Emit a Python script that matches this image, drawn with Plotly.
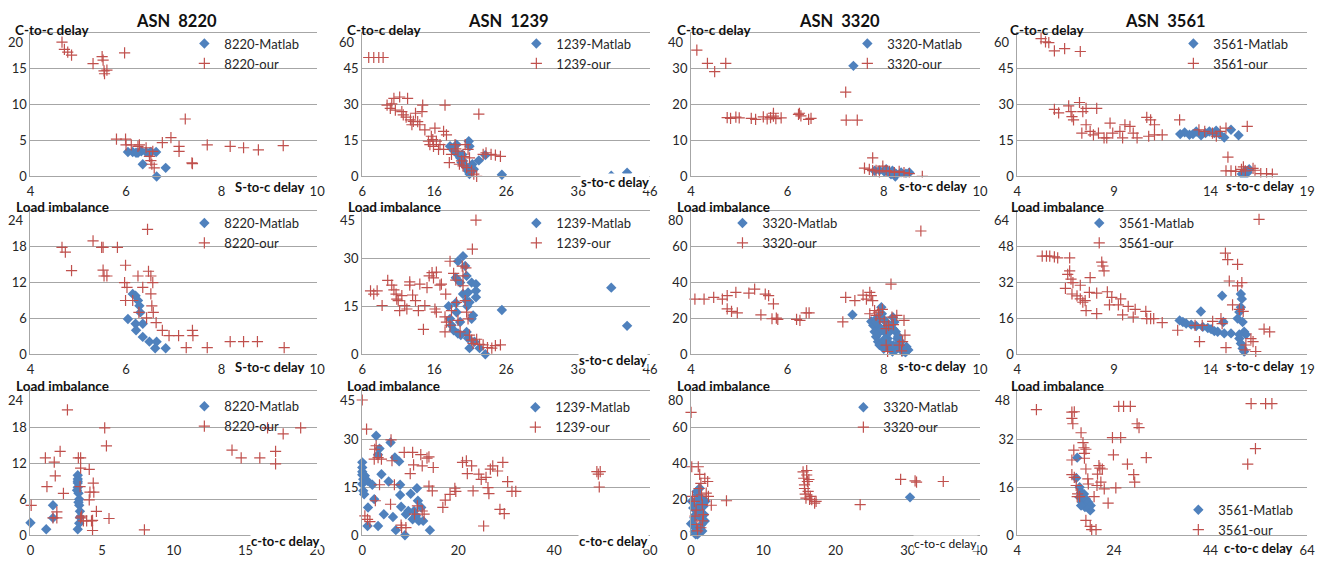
import plotly.graph_objects as go

W, H = 1332, 563
BLUE = "#4F81BD"
RED = "#C0504D"
GRID = "#A6A6A6"
TXT = "#262626"
FONT = "Lato"

# ---------------- data ----------------
# Row 1: s-to-c delay (x) vs c-to-c delay (y)
asn8220_sc_cc_matlab_x = [6.04, 6.14, 6.21, 6.25, 6.32, 6.42, 6.49, 6.52, 6.63, 6.35, 6.83, 6.64]
asn8220_sc_cc_matlab_y = [3.4, 3.4, 3.3, 3.3, 3.5, 3.4, 3.3, 3.4, 3.4, 1.7, 1.2, 0.0]
asn8220_sc_cc_our_x = [4.66, 4.71, 4.78, 4.86, 5.31, 5.50, 5.52, 5.54, 5.55, 5.60, 5.97, 5.80, 5.99, 6.00, 6.11,
                       6.25, 6.28, 6.42, 6.56, 6.49, 6.52, 6.54, 6.59, 6.76, 6.94, 7.11, 7.11, 7.24, 7.39, 7.38,
                       7.70, 8.18, 8.46, 8.77, 9.29]
asn8220_sc_cc_our_y = [18.7, 17.7, 17.3, 16.9, 15.7, 16.7, 16.2, 14.7, 14.3, 14.8, 17.2, 5.2, 5.2, 4.4, 4.4,
                       4.2, 4.4, 4.0, 3.5, 2.8, 2.2, 1.7, 1.2, 4.7, 5.4, 4.2, 3.5, 8.0, 1.8, 1.9,
                       4.4, 4.2, 4.0, 3.7, 4.3]

asn1239_sc_cc_matlab_x = [18.2, 18.6, 19.1, 19.3, 19.6, 19.8, 20.0, 20.3, 20.5, 20.7, 20.9, 20.8, 20.9, 21.3, 21.5,
                          22.2, 23.1, 25.4, 40.6, 42.8, 18.8, 19.9]
asn1239_sc_cc_matlab_y = [12.6, 11.3, 13.3, 9.2, 7.8, 5.8, 6.5, 4.4, 3.7, 2.3, 1.0, 14.7, 12.6, 5.1, 3.0,
                          6.7, 8.9, 0.7, 0.3, 1.6, 10.6, 9.2]
asn1239_sc_cc_our_x = [6.9, 7.6, 8.3, 8.9, 9.45, 9.9, 10.4, 10.6, 11.2, 11.5, 11.7, 12.3, 12.7, 12.9, 13.4, 13.7,
                       14.0, 14.4, 14.3, 14.7, 15.2, 15.4, 15.9, 16.1, 16.3, 16.6, 16.8, 17.3, 17.5, 17.7, 17.3,
                       18.1, 18.4, 18.9, 19.3, 19.8, 20.0, 20.3, 20.5, 20.7, 21.2, 21.5, 21.9, 22.2, 22.8, 23.2,
                       23.9, 24.5, 25.2, 20.9, 19.5, 15.6, 10.1, 12.1, 13.1, 15.8, 19.0, 20.2]
asn1239_sc_cc_our_y = [49.7, 49.7, 49.7, 49.7, 29.8, 28.4, 32.6, 27.7, 33.2, 27.1, 25.7, 32.6, 23.6, 21.6, 26.4, 22.9,
                       21.6, 29.8, 27.1, 19.5, 14.7, 13.3, 12.6, 20.2, 14.7, 11.3, 13.3, 18.8, 29.8, 17.4, 11.3,
                       5.8, 9.2, 13.3, 10.6, 6.5, 4.4, 13.3, 3.7, 11.3, 2.3, 1.0, 0.0, 26.0, 9.2, 9.9,
                       9.2, 8.9, 8.4, 7.8, 5.1, 16.8, 30.3, 24.8, 23.0, 15.4, 11.5, 8.3]

asn3320_sc_cc_matlab_x = [7.37, 7.81, 7.91, 8.01, 8.12, 8.18, 8.25, 8.36, 8.46, 8.53, 8.24, 8.05, 8.15]
asn3320_sc_cc_matlab_y = [30.8, 1.6, 1.7, 1.4, 1.1, 1.6, 0.8, 1.1, 0.8, 1.1, 0.0, 2.0, 0.6]
asn3320_sc_cc_our_x = [4.12, 4.34, 4.49, 4.72, 4.75, 4.82, 4.93, 5.0, 5.25, 5.34, 5.5, 5.58, 5.65, 5.71, 5.76, 5.87,
                       6.23, 6.28, 6.44, 6.49, 5.71, 6.25, 7.21, 7.22, 7.45, 7.77, 7.6, 7.70, 7.84, 7.98, 8.05,
                       8.12, 8.22, 8.32, 8.42, 8.53, 8.80, 7.91, 7.77]
asn3320_sc_cc_our_y = [35.2, 31.5, 29.2, 31.5, 16.4, 16.2, 16.5, 16.3, 16.2, 15.9, 16.6, 16.0, 16.4, 16.8, 16.1, 16.3,
                       17.3, 16.9, 15.9, 16.2, 17.6, 17.6, 23.5, 15.7, 15.7, 5.2, 2.3, 2.0, 1.7, 2.9, 1.6,
                       1.4, 1.1, 1.4, 1.1, 0.8, 0.0, 1.3, 1.6]

asn3561_sc_cc_matlab_x = [12.43, 12.66, 12.91, 13.26, 13.51, 13.74, 13.94, 14.2, 14.46, 14.71, 15.06, 15.45, 13.09,
                          14.29, 15.62, 15.79, 15.91, 15.74, 16.0]
asn3561_sc_cc_matlab_y = [17.7, 18.4, 17.4, 18.8, 17.2, 18.1, 18.8, 18.1, 17.7, 16.3, 19.5, 17.2, 17.7,
                          19.1, 1.0, 2.3, 1.6, 0.0, 3.0]
asn3561_sc_cc_our_x = [5.23, 5.46, 5.63, 5.92, 6.45, 7.26, 5.92, 6.14, 6.66, 6.78, 6.83, 6.91, 7.22, 7.39, 7.56, 7.56,
                       7.34, 7.77, 7.94, 8.11, 8.2, 8.49, 8.63, 8.80, 8.94, 9.31, 9.45, 9.57, 9.83, 10.0, 10.2,
                       10.7, 10.9, 11.1, 10.8, 11.1, 11.5, 12.4, 13.4, 13.7, 14.1, 14.3, 14.5, 14.8, 15.9, 14.9,
                       14.8, 15.06, 15.3, 15.6, 15.8, 16.2, 16.3, 16.6, 16.9, 17.2, 15.7]
asn3561_sc_cc_our_y = [57.6, 56.2, 55.9, 52.5, 53.4, 52.2, 28.0, 26.6, 29.5, 27.1, 25.0, 23.6, 30.9, 27.1, 28.4, 21.6,
                       18.1, 18.8, 17.4, 28.4, 18.1, 16.1, 16.1, 22.3, 18.1, 18.8, 16.1, 21.6, 20.9, 18.1, 16.1,
                       24.7, 23.6, 21.6, 16.8, 17.4, 17.4, 23.6, 19.5, 18.8, 18.1, 16.8, 18.8, 20.2, 20.9, 8.1,
                       2.3, 2.3, 2.1, 3.0, 2.3, 3.4, 2.6, 1.2, 1.2, 1.0, 4.0]

# Row 2: s-to-c delay (x) vs load imbalance (y)
asn8220_sc_li_matlab_x = [6.04, 6.14, 6.2, 6.25, 6.28, 6.3, 6.2, 6.21, 6.35, 6.35, 6.49, 6.61, 6.64, 6.83]
asn8220_sc_li_matlab_y = [5.9, 10.1, 9.8, 9.0, 8.1, 7.0, 5.1, 4.0, 5.1, 2.9, 2.1, 1.0, 2.1, 1.0]
asn8220_sc_li_our_x = [4.66, 4.73, 4.86, 5.31, 5.49, 5.52, 5.52, 5.54, 5.6, 5.82, 5.99, 5.97, 6.02, 5.99, 6.14,
                       6.25, 6.27, 6.35, 6.43, 6.45, 6.47, 6.52, 6.52, 6.54, 6.57, 6.56, 6.63, 6.76, 6.9, 7.1,
                       7.26, 7.39, 7.4, 7.70, 8.18, 8.46, 8.75, 9.31]
asn8220_sc_li_our_y = [17.9, 17.1, 14.0, 19.0, 17.9, 17.9, 14.1, 13.1, 13.1, 17.9, 14.9, 12.0, 11.2, 9.0, 9.0,
                       13.1, 7.0, 11.2, 6.1, 20.9, 13.9, 13.1, 10.1, 8.1, 7.0, 12.0, 5.3, 4.0, 3.1, 3.1,
                       1.1, 4.0, 3.1, 1.1, 2.1, 2.1, 2.1, 1.1]

asn1239_sc_li_matlab_x = [18.0, 18.2, 18.4, 18.7, 19.1, 19.0, 19.3, 19.6, 19.7, 19.3, 20.0, 20.3, 20.5, 19.0, 19.6,
                          20.0, 20.5, 20.6, 20.7, 21.2, 21.8, 21.8, 21.8, 21.4, 21.2, 20.5, 20.7, 20.9, 21.6, 22.3,
                          23.1, 25.4, 40.6, 42.8, 20.9]
asn1239_sc_li_matlab_y = [15.1, 11.1, 9.1, 7.5, 13.2, 16.1, 6.5, 10.1, 6.0, 29.2, 30.8, 27.7, 24.6, 24.0, 22.5,
                          18.9, 16.8, 15.1, 19.4, 22.5, 22.0, 19.9, 17.9, 12.2, 11.1, 7.0, 5.0, 1.9, 3.9, 1.9,
                          0.0, 13.9, 20.9, 8.9, 16.3]
asn1239_sc_li_our_x = [7.15, 7.6, 8.07, 8.76, 9.54, 10.1, 10.4, 10.7, 10.8, 11.0, 11.2, 11.5, 11.9, 12.2, 12.6, 12.6,
                       13.0, 13.4, 14.0, 13.8, 14.7, 14.5, 15.0, 15.3, 15.7, 15.9, 16.3, 16.1, 16.3, 16.8, 17.0,
                       17.5, 17.6, 17.5, 17.7, 18.2, 18.2, 18.4, 18.7, 19.0, 19.1, 19.3, 19.6, 19.9, 20.0, 20.3,
                       20.5, 20.7, 20.9, 21.2, 21.3, 21.4, 21.8, 21.9, 22.3, 22.8, 23.4, 24.0, 24.5, 25.2, 20.0,
                       20.4]
asn1239_sc_li_our_y = [19.9, 18.9, 19.9, 15.3, 23.2, 21.7, 20.2, 18.9, 17.3, 16.8, 13.7, 18.4, 15.3, 14.2, 22.7, 21.7,
                       18.6, 16.8, 22.0, 13.7, 15.3, 7.8, 20.9, 24.6, 25.6, 24.0, 25.8, 14.2, 13.2, 21.7, 22.0,
                       7.0, 18.9, 11.7, 10.1, 29.2, 9.1, 13.7, 25.4, 23.3, 16.3, 10.6, 7.0, 27.7, 24.6, 16.8,
                       13.2, 11.1, 6.0, 4.4, 33.0, 3.4, 42.1, 4.7, 3.1, 2.9, 2.1, 1.9, 2.7, 2.9, 21.5,
                       27.1]

asn3320_sc_li_matlab_x = [7.35, 7.74, 7.78, 7.81, 7.84, 7.88, 7.91, 7.95, 7.96, 7.98, 8.01, 8.05, 8.08, 8.11, 8.15,
                          8.18, 8.19, 8.22, 8.25, 8.28, 8.32, 8.37, 8.42, 8.47, 8.51, 8.39, 8.11, 8.05, 8.25, 7.91,
                          7.84, 7.9, 8.0, 8.1, 8.2, 8.3, 7.85, 8.05, 8.2, 8.35, 8.45, 8.0, 7.95]
asn3320_sc_li_matlab_y = [22.0, 18.3, 16.1, 12.5, 9.7, 7.0, 5.1, 26.2, 22.6, 19.8, 14.3, 11.6, 8.8, 6.1, 3.3,
                          1.5, 20.7, 18.0, 12.5, 8.8, 6.1, 4.2, 2.9, 4.2, 2.4, 1.5, 16.1, 6.1, 2.4, 15.2,
                          18.0, 12.0, 8.0, 12.0, 5.0, 10.0, 20.0, 18.0, 14.0, 7.0, 1.0, 3.0, 14.0]
asn3320_sc_li_our_x = [4.08, 4.27, 4.47, 4.65, 4.75, 4.75, 4.84, 4.93, 4.96, 5.2, 5.32, 5.45, 5.54, 5.61, 5.71, 5.68,
                       5.77, 5.8, 6.19, 6.26, 6.39, 6.45, 7.15, 7.21, 7.4, 7.57, 7.64, 7.71, 7.74, 7.77, 7.71,
                       7.81, 7.84, 7.89, 7.92, 7.97, 8.01, 8.05, 8.1, 8.15, 8.17, 8.2, 8.05, 8.08, 8.27, 8.32,
                       8.37, 8.42, 8.44, 8.77, 8.39]
asn3320_sc_li_our_y = [30.8, 30.8, 31.7, 30.8, 32.7, 25.3, 23.9, 34.5, 23.1, 34.1, 36.3, 22.0, 33.6, 32.7, 28.1, 19.8,
                       20.2, 19.4, 19.4, 18.9, 23.1, 23.1, 18.0, 31.7, 29.9, 33.0, 30.8, 34.5, 32.7, 29.9, 22.6,
                       24.4, 21.7, 23.5, 19.8, 25.0, 18.0, 14.3, 16.1, 39.1, 20.7, 16.5, 5.1, 1.5, 21.7, 5.1,
                       1.8, 18.9, 10.6, 68.8, 7.0]

asn3561_sc_li_matlab_x = [12.4, 12.57, 12.74, 13.0, 13.26, 13.5, 13.6, 13.86, 14.03, 14.2, 14.37, 14.6, 14.66, 14.71,
                          15.06, 15.4, 15.49, 15.57, 15.62, 15.57, 15.66, 15.74, 15.49, 15.57, 15.66, 15.74, 15.83,
                          15.49]
asn3561_sc_li_matlab_y = [15.1, 14.4, 13.7, 13.2, 12.6, 19.1, 12.2, 11.7, 11.2, 10.3, 10.0, 26.1, 14.4, 9.3,
                          9.3, 15.9, 18.8, 26.9, 24.7, 21.0, 14.4, 10.0, 7.0, 4.8, 2.6, 1.2, 8.8,
                          8.8]
asn3561_sc_li_our_x = [5.29, 5.51, 5.68, 5.92, 6.09, 6.71, 6.49, 6.61, 6.71, 6.78, 6.88, 6.83, 7.09, 7.26, 7.26, 7.39,
                       7.56, 7.51, 7.73, 7.77, 8.11, 8.11, 8.37, 8.43, 8.49, 8.66, 8.77, 8.89, 9.23, 9.35, 9.45,
                       9.74, 10.0, 10.1, 10.65, 10.7, 10.9, 11.06, 11.5, 12.3, 13.2, 13.43, 13.57, 14.11, 14.54,
                       14.6, 14.77, 14.89, 14.97, 14.8, 15.14, 15.4, 15.4, 15.49, 15.62, 15.69, 15.79, 15.83,
                       16.09, 16.2, 16.34, 16.51, 16.77, 17.06]
asn3561_sc_li_our_y = [43.8, 43.8, 43.8, 43.5, 43.0, 43.0, 29.4, 35.7, 37.2, 33.5, 32.0, 26.9, 26.1, 30.8, 24.7, 23.2,
                       19.5, 23.9, 27.6, 34.2, 18.1, 27.3, 41.1, 39.4, 37.2, 27.9, 22.0, 25.4, 22.0, 24.7, 17.6,
                       21.4, 16.6, 20.0, 19.1, 15.9, 15.9, 15.9, 14.1, 10.7, 12.9, 5.6, 12.9, 14.7, 15.9,
                       13.7, 45.2, 42.3, 32.7, 2.9, 22.0, 40.1, 30.5, 20.0, 32.0, 19.1, 1.9, 4.1,
                       7.0, 5.6, 1.2, 60.2, 11.2, 10.0]

# Row 3: c-to-c delay (x) vs load imbalance (y)
asn8220_cc_li_matlab_x = [0.0, 1.1, 1.57, 1.57, 3.3, 3.3, 3.3, 3.3, 3.35, 3.4, 3.4, 3.45, 3.45, 3.4, 3.3, 3.35, 3.25, 3.3]
asn8220_cc_li_matlab_y = [2.1, 1.0, 5.0, 2.9, 10.0, 9.4, 8.7, 8.0, 7.0, 6.0, 5.0, 4.0, 3.0, 2.0, 1.0, 5.5, 7.5, 9.0]
asn8220_cc_li_our_x = [0.05, 1.04, 1.15, 1.66, 1.73, 1.57, 1.84, 1.84, 2.07, 2.3, 2.58, 3.34, 3.5, 3.46, 3.5, 3.57,
                       3.69, 3.92, 4.1, 4.1, 4.15, 4.26, 4.33, 4.38, 4.42, 4.6, 5.18, 5.3, 5.48, 7.95, 14.06,
                       14.7, 16.0, 16.54, 17.1, 17.1, 17.63, 18.85, 3.5, 4.33]
asn8220_cc_li_our_y = [5.0, 12.9, 8.1, 12.2, 9.9, 2.9, 3.9, 2.9, 14.0, 7.0, 20.9, 12.9, 12.9, 8.1, 11.2, 3.2,
                       2.4, 2.4, 11.0, 5.9, 7.2, 2.4, 0.8, 8.7, 7.2, 4.0, 17.9, 14.9, 2.8, 0.9, 14.2,
                       12.9, 12.9, 17.9, 14.0, 11.9, 16.9, 17.9, 2.9, 2.5]

asn1239_cc_li_matlab_x = [0, 0, 0, 0, 0.2, 0, 0.2, 0.4, 0.55, 1.1, 1.2, 1.1, 2.1, 2.5, 2.9, 3.3, 3.3, 3.6, 4.0, 4.5,
                          5.5, 5.9, 6.4, 6.8, 7.0, 7.7, 7.9, 7.9, 8.1, 8.9, 9.1, 9.6, 10.1, 10.5, 10.8, 11.2, 11.4,
                          11.6, 11.8, 12.3, 12.7, 14.1]
asn1239_cc_li_matlab_y = [22.8, 21.2, 19.9, 18.9, 17.5, 16.0, 13.9, 12.8, 18.6, 17.0, 8.7, 2.9, 15.8, 11.3, 31.1,
                          25.2, 2.9, 27.1, 19.1, 6.6, 16.8, 29.0, 5.7, 24.3, 1.6, 23.1, 12.6, 15.8, 8.9, 0.0,
                          6.6, 7.6, 13.0, 5.0, 7.6, 6.1, 14.7, 10.8, 4.5, 8.7, 4.5, 1.6]
asn1239_cc_li_our_x = [0, 0.9, 0.55, 1.1, 1.6, 2.5, 2.6, 2.9, 2.73, 3.3, 3.6, 4.0, 5.9, 6.0, 6.2, 6.7, 8.1, 8.2,
                       8.75, 9.1, 10.0, 10.5, 10.7, 10.9, 11.5, 12.2, 12.5, 12.5, 12.9, 13.5, 13.9, 13.9, 14.6,
                       14.8, 16.8, 17.3, 18.3, 19.3, 19.5, 20.9, 21.7, 21.9, 22.8, 23.1, 24.3, 24.8, 25.3, 25.8,
                       26.2, 26.4, 26.7, 27.2, 28.2, 28.7, 29.3, 29.6, 30.3, 31.2, 32.0, 48.9, 49.2, 49.4, 49.6]
asn1239_cc_li_our_y = [42.3, 33.2, 6.1, 5.0, 4.3, 23.8, 26.9, 28.0, 10.8, 24.3, 15.8, 23.8, 9.7, 29.8, 23.3, 15.8,
                       3.2, 2.4, 25.9, 2.4, 19.3, 25.9, 22.0, 6.6, 9.2, 25.2, 21.7, 7.6, 6.6, 24.1, 24.5, 15.4,
                       13.9, 21.2, 8.7, 11.0, 12.8, 14.7, 13.7, 22.8, 23.3, 19.3, 21.7, 13.9, 19.1, 17.5, 2.9,
                       18.1, 14.9, 13.0, 20.7, 21.7, 20.1, 8.1, 22.8, 6.8, 16.8, 13.7, 13.7, 19.9, 19.1, 15.1,
                       19.9]

asn3320_cc_li_matlab_x = [30.3, 0, 0.1, 0.3, 0.45, 0.55, 0.64, 0.77, 0.9, 1.0, 1.1, 1.2, 1.36, 1.45, 1.55, 1.7, 1.8,
                          1.9, 2.0, 0.9, 1.2, 0.64, 0.3, 1.0, 1.3, 0.8, 1.5, 0.5]
asn3320_cc_li_matlab_y = [21.1, 6.4, 18.9, 15.2, 9.7, 4.2, 0.5, 24.4, 22.5, 19.8, 17.0, 13.4, 9.7, 6.0, 2.4, 16.1,
                          11.5, 7.9, 18.9, 0.5, 26.2, 11.5, 6.0, 12.0, 4.0, 16.0, 20.0, 2.0]
asn3320_cc_li_our_x = [0, 0.1, 1.0, 0.2, 0.45, 0.55, 0.8, 0.9, 1.2, 1.36, 1.45, 1.55, 1.7, 1.36, 1.9, 2.1, 2.3, 2.4,
                       2.8, 4.9, 15.5, 15.6, 15.7, 15.8, 15.9, 16.0, 16.1, 16.2, 16.5, 16.7, 17.1, 17.3, 23.4,
                       29.0, 31.0, 31.2, 34.9, 15.7, 16.3, 16.0, 16.4, 1.1, 1.6, 0.7]
asn3320_cc_li_our_y = [68.3, 38.1, 38.1, 21.6, 18.9, 10.6, 6.0, 2.4, 33.9, 28.9, 22.5, 17.0, 11.5, 4.2, 31.7, 23.4,
                       29.9, 21.6, 16.7, 19.2, 35.3, 31.7, 28.0, 22.9, 20.7, 33.5, 29.9, 24.4, 21.6, 19.8, 17.9,
                       18.9, 17.0, 31.1, 30.2, 29.5, 29.9, 26.0, 31.0, 36.0, 20.0, 26.0, 8.0, 14.0]

asn3561_cc_li_matlab_x = [16.4, 16.2, 16.9, 17.2, 16.9, 17.6, 17.9, 17.4, 18.2, 18.6, 19.1, 18.2, 18.7, 19.2, 17.8,
                          18.0, 17.2]
asn3561_cc_li_matlab_y = [25.9, 19.1, 16.0, 14.3, 12.7, 12.7, 11.6, 11.0, 10.5, 9.4, 8.3, 12.1, 11.0, 9.9, 13.8,
                          9.4, 9.9]
asn3561_cc_li_our_x = [7.96, 15.3, 15.3, 15.5, 15.8, 15.3, 15.7, 15.3, 15.8, 16.2, 16.5, 16.4, 16.9, 17.2, 17.6, 17.8,
                       17.9, 17.9, 18.2, 18.2, 18.6, 18.2, 18.7, 19.1, 19.4, 19.9, 20.3, 20.6, 20.9, 21.1, 21.3,
                       21.6, 22.0, 22.8, 23.7, 23.9, 24.4, 25.0, 26.0, 27.4, 25.4, 26.8, 28.1, 28.3, 28.8, 29.2,
                       30.7, 51.7, 53.3, 52.4, 55.4, 56.7, 20.5]
asn3561_cc_li_our_y = [41.9, 39.0, 41.1, 37.2, 41.2, 25.1, 28.4, 20.2, 19.3, 16.6, 13.8, 12.9, 12.9, 34.2, 30.9, 29.2,
                       27.3, 25.7, 28.7, 22.1, 18.8, 5.0, 17.1, 3.0, 1.9, 12.9, 1.9, 20.4, 23.2, 22.4, 17.7,
                       22.1, 15.5, 10.7, 32.6, 26.8, 15.8, 43.0, 43.0, 43.0, 32.6, 23.7, 20.2, 17.7, 37.2, 35.9,
                       25.9, 23.7, 28.9, 43.9, 43.9, 43.9, 16.6]

# ---------------- layout ----------------
col_px = [(26.7, 316.0), (361.5, 652.0), (693.3, 985.0), (1022.5, 1315.0)]
row_px = [(33.3, 179.0), (214.0, 359.3), (397.0, 543.0)]

panels = [
    # row 1
    dict(asn="8220", r=0, c=0, m=(asn8220_sc_cc_matlab_x, asn8220_sc_cc_matlab_y), o=(asn8220_sc_cc_our_x, asn8220_sc_cc_our_y),
         xr=(4, 10), xd=2, ym=20, yd=5, xt="S-to-c delay", xtp=(268, 190), yt="C-to-c delay", ytp=(9, 30), leg=(204, 43)),
    dict(asn="1239", r=0, c=1, m=(asn1239_sc_cc_matlab_x, asn1239_sc_cc_matlab_y), o=(asn1239_sc_cc_our_x, asn1239_sc_cc_our_y),
         xr=(6, 46), xd=10, ym=60, yd=15, xt="s-to-c delay", xtp=(617, 185), yt="C-to-c delay", ytp=(344, 30), leg=(539, 43)),
    dict(asn="3320", r=0, c=2, m=(asn3320_sc_cc_matlab_x, asn3320_sc_cc_matlab_y), o=(asn3320_sc_cc_our_x, asn3320_sc_cc_our_y),
         xr=(4, 10), xd=2, ym=40, yd=10, xt="s-to-c delay", xtp=(937, 189), yt="C-to-c delay", ytp=(677, 30), leg=(873, 43)),
    dict(asn="3561", r=0, c=3, m=(asn3561_sc_cc_matlab_x, asn3561_sc_cc_matlab_y), o=(asn3561_sc_cc_our_x, asn3561_sc_cc_our_y),
         xr=(4, 19), xd=5, ym=60, yd=15, xt="s-to-c delay", xtp=(1267, 189), yt="C-to-c delay", ytp=(1013, 30), leg=(1202, 43)),
    # row 2
    dict(asn="8220", r=1, c=0, m=(asn8220_sc_li_matlab_x, asn8220_sc_li_matlab_y), o=(asn8220_sc_li_our_x, asn8220_sc_li_our_y),
         xr=(4, 10), xd=2, ym=24, yd=6, xt="S-to-c delay", xtp=(268, 372), yt="Load imbalance", ytp=(10, 210), leg=(204, 225)),
    dict(asn="1239", r=1, c=1, m=(asn1239_sc_li_matlab_x, asn1239_sc_li_matlab_y), o=(asn1239_sc_li_our_x, asn1239_sc_li_our_y),
         xr=(6, 46), xd=10, ym=45, yd=15, xt="s-to-c delay", xtp=(615, 365), yt="Load imbalance", ytp=(345, 210), leg=(539, 225)),
    dict(asn="3320", r=1, c=2, m=(asn3320_sc_li_matlab_x, asn3320_sc_li_matlab_y), o=(asn3320_sc_li_our_x, asn3320_sc_li_our_y),
         xr=(4, 10), xd=2, ym=80, yd=20, xt="s-to-c delay", xtp=(936, 371), yt="Load imbalance", ytp=(677, 210), leg=(747, 225)),
    dict(asn="3561", r=1, c=3, m=(asn3561_sc_li_matlab_x, asn3561_sc_li_matlab_y), o=(asn3561_sc_li_our_x, asn3561_sc_li_our_y),
         xr=(4, 19), xd=5, ym=64, yd=16, xt="s-to-c delay", xtp=(1267, 371), yt="Load imbalance", ytp=(1014, 210), leg=(1107, 225)),
    # row 3
    dict(asn="8220", r=2, c=0, m=(asn8220_cc_li_matlab_x, asn8220_cc_li_matlab_y), o=(asn8220_cc_li_our_x, asn8220_cc_li_our_y),
         xr=(0, 20), xd=5, ym=24, yd=6, xt="c-to-c delay", xtp=(284, 549), yt="Load imbalance", ytp=(10, 392), leg=(204, 411)),
    dict(asn="1239", r=2, c=1, m=(asn1239_cc_li_matlab_x, asn1239_cc_li_matlab_y), o=(asn1239_cc_li_our_x, asn1239_cc_li_our_y),
         xr=(0, 60), xd=20, ym=45, yd=15, xt="c-to-c delay", xtp=(615, 549), yt="Load imbalance", ytp=(344, 392), leg=(538, 412)),
    dict(asn="3320", r=2, c=2, m=(asn3320_cc_li_matlab_x, asn3320_cc_li_matlab_y), o=(asn3320_cc_li_our_x, asn3320_cc_li_our_y),
         xr=(0, 40), xd=10, ym=80, yd=20, xt="c-to-c delay", xtp=(950, 551), yt="Load imbalance", ytp=(677, 392), leg=(869, 412),
         xt_plain=True),
    dict(asn="3561", r=2, c=3, m=(asn3561_cc_li_matlab_x, asn3561_cc_li_matlab_y), o=(asn3561_cc_li_our_x, asn3561_cc_li_our_y),
         xr=(4, 64), xd=20, ym=48, yd=16, xt="c-to-c delay", xtp=(1266, 556), yt="Load imbalance", ytp=(1014, 392), leg=(1207, 516)),
]

fig = go.Figure()
layout = {}
annotations = []

for i, p in enumerate(panels, start=1):
    xa = "x" if i == 1 else f"x{i}"
    ya = "y" if i == 1 else f"y{i}"
    xkey = "xaxis" if i == 1 else f"xaxis{i}"
    ykey = "yaxis" if i == 1 else f"yaxis{i}"
    lkey = "legend" if i == 1 else f"legend{i}"
    l, r = col_px[p["c"]]
    t, b = row_px[p["r"]]

    fig.add_trace(go.Scatter(
        x=p["m"][0], y=p["m"][1], mode="markers", name=f"{p['asn']}-Matlab",
        xaxis=xa, yaxis=ya, legend=lkey, cliponaxis=False,
        marker=dict(symbol="diamond", size=8, color=BLUE, line=dict(width=0))))
    fig.add_trace(go.Scatter(
        x=p["o"][0], y=p["o"][1], mode="markers", name=f"{p['asn']}-our",
        xaxis=xa, yaxis=ya, legend=lkey, cliponaxis=False,
        marker=dict(symbol="cross-thin", size=8, color=RED, line=dict(width=1.2, color=RED))))

    layout[xkey] = dict(
        domain=[l / W, r / W], range=list(p["xr"]), tickmode="linear", tick0=p["xr"][0], dtick=p["xd"],
        showgrid=False, zeroline=False, showline=True, linecolor=GRID, linewidth=1, mirror=True,
        ticks="", ticklabelstandoff=3, tickfont=dict(family=FONT, size=13, color=TXT), anchor=ya, fixedrange=True)
    yticks = list(range(0, p["ym"], p["yd"]))
    layout[ykey] = dict(
        domain=[1 - b / H, 1 - t / H], range=[0, p["ym"]], tickmode="array", tickvals=yticks,
        ticktext=[str(v) for v in yticks],
        showgrid=True, gridcolor=GRID, gridwidth=1, zeroline=False, showline=True, linecolor=GRID,
        linewidth=1, ticks="", tickfont=dict(family=FONT, size=13, color=TXT), anchor=xa, fixedrange=True)
    layout[lkey] = dict(
        x=(p["leg"][0] - 22) / W, y=1 - (p["leg"][1] - 14) / H, xanchor="left", yanchor="top",
        bgcolor="rgba(0,0,0,0)", borderwidth=0, itemwidth=30, tracegroupgap=0,
        font=dict(family=FONT, size=13, color=TXT))

    # top y tick label (drawn slightly below the top gridline, as in the source)
    annotations.append(dict(
        text=str(p["ym"]), x=(l - 5) / W, y=1 - (t + 9) / H, xref="paper", yref="paper",
        xanchor="right", yanchor="middle", showarrow=False, font=dict(family=FONT, size=13, color=TXT)))
    # y axis title (top-left)
    annotations.append(dict(
        text=f"<b>{p['yt']}</b>", x=p["ytp"][0] / W, y=1 - p["ytp"][1] / H, xref="paper", yref="paper",
        xanchor="left", yanchor="middle", showarrow=False, font=dict(family=FONT, size=13.5, color="#111")))
    # x axis title (bottom-right)
    xt_text = p["xt"] if p.get("xt_plain") else f"<b>{p['xt']}</b>"
    annotations.append(dict(
        text=xt_text, x=p["xtp"][0] / W, y=1 - p["xtp"][1] / H, xref="paper", yref="paper",
        xanchor="center", yanchor="middle", showarrow=False, bgcolor="white", borderpad=0,
        font=dict(family=FONT, size=13 if not p.get("xt_plain") else 12, color="#111")))

# Chart titles
title_cx = [174, 509, 843, 1172]
for c, asn in enumerate(["8220", "1239", "3320", "3561"]):
    annotations.append(dict(
        text=f"<b>ASN  {asn}</b>", x=title_cx[c] / W, y=1 - 21 / H, xref="paper", yref="paper",
        xanchor="center", yanchor="middle", showarrow=False, font=dict(family=FONT, size=16.5, color="#111")))

fig.update_layout(
    width=W, height=H, margin=dict(l=0, r=0, t=0, b=0),
    paper_bgcolor="white", plot_bgcolor="white", showlegend=True,
    annotations=annotations, **layout)

fig.write_html("out.html", config={"displayModeBar": False},
               post_script="document.body.style.margin='0';")
